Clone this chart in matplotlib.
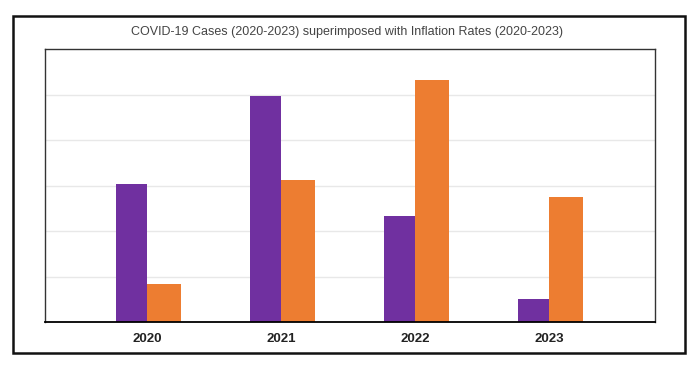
import numpy as np
import matplotlib.pyplot as plt
from matplotlib.patches import Rectangle

years = ["2020", "2021", "2022", "2023"]
covid_cases = [3.03, 4.97, 2.33, 0.50]
inflation = [0.84, 3.12, 5.32, 2.75]

fig = plt.figure(figsize=(7, 3.66), dpi=100)
fig.patch.set_facecolor("white")

# outer frame around the whole chart
fig.patches.append(Rectangle((0.019, 0.036), 0.960, 0.92, transform=fig.transFigure,
                             fill=False, edgecolor="#111111", linewidth=1.8))

ax = fig.add_axes([0.064, 0.12, 0.872, 0.746])
x = np.arange(len(years))
ax.bar(x, covid_cases, width=-0.23, align="edge", color="#7030A0")
ax.bar(x, inflation, width=0.255, align="edge", color="#ED7D31")

ax.set_xlim(-0.76, 3.79)
ax.set_ylim(0, 6)
ax.set_yticks([1, 2, 3, 4, 5])
ax.yaxis.grid(True, color="#e8e8e8", linewidth=1)
ax.set_axisbelow(True)
ax.tick_params(axis="y", left=False, labelleft=False)
ax.set_xticks(x)
ax.set_xticklabels(years, fontsize=9.5, fontweight="bold", color="#222222",
                   family=["Liberation Sans", "DejaVu Sans"])
ax.tick_params(axis="x", length=0, pad=8)
for s in ["left", "right", "top"]:
    ax.spines[s].set_color("#333333")
    ax.spines[s].set_linewidth(1.0)
ax.spines["bottom"].set_color("black")
ax.spines["bottom"].set_linewidth(1.3)

fig.text(0.496, 0.912, "COVID-19 Cases (2020-2023) superimposed with Inflation Rates (2020-2023)",
         ha="center", va="center", fontsize=9, color="#444444",
         family=["Liberation Sans", "DejaVu Sans"])

fig.savefig("out.png", dpi=100)
